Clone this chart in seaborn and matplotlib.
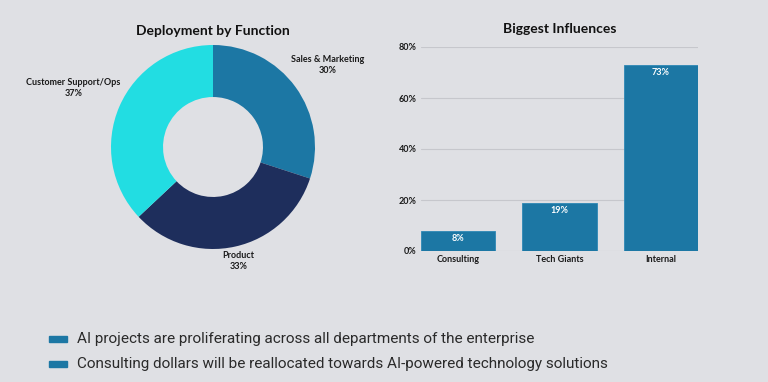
import pandas as pd
import matplotlib.pyplot as plt
import seaborn as sns

# data
pie_labels = ['Sales & Marketing', 'Product', 'Customer Support/Ops']
pie_values = [30, 33, 37]
pie_colors = ['#1c77a4', '#1e2e5c', '#22dde2']

bar_labels = ['Consulting', 'Tech Giants', 'Internal']
bar_values = [8, 19, 73]
bar_color = '#1c77a4'
y_ticks = [0, 20, 40, 60, 80]

notes = ['AI projects are proliferating across all departments of the enterprise',
         'Consulting dollars will be reallocated towards AI-powered technology solutions']

bg = '#dfe0e4'
sns.set_style('white')
plt.rcParams['font.family'] = ['Lato', 'DejaVu Sans']

fig = plt.figure(figsize=(7.68, 3.82), dpi=100)
fig.patch.set_facecolor(bg)

# ── Donut: Deployment by Function ───────────────────────────
ax1 = fig.add_axes([111 / 768, (382 - 249) / 382, 204 / 768, 204 / 382])
ax1.set_facecolor(bg)
ax1.pie(pie_values, colors=pie_colors, startangle=90, counterclock=False,
        radius=1, wedgeprops=dict(width=0.51, edgecolor='none'))
ax1.set_xlim(-1, 1)
ax1.set_ylim(-1, 1)
ax1.axis('off')
label_pos = [(1.12, 0.8), (0.25, -1.12), (-1.37, 0.58)]
for (lx, ly), name, v in zip(label_pos, pie_labels, pie_values):
    ax1.text(lx, ly, f'{name}\n{v}%', ha='center', va='center', fontsize=6.5,
             fontweight='bold', color='#1a1a1a', linespacing=1.3, clip_on=False)
fig.text(213 / 768, 1 - 31 / 382, 'Deployment by Function', ha='center', va='center',
         fontsize=10, fontweight='bold', color='#111111')

# ── Bar: Biggest Influences ─────────────────────────────────
df = pd.DataFrame({'source': bar_labels, 'share': bar_values})
ax2 = fig.add_axes([421 / 768, (382 - 251) / 382, 277 / 768, 204 / 382])
ax2.set_facecolor(bg)
sns.barplot(data=df, x='source', y='share', color=bar_color, width=0.73,
            saturation=1, ax=ax2, zorder=3, edgecolor='#2d88b5', linewidth=0.6)
ax2.set_xlim(-0.365, 2.365)
ax2.set_ylim(0, 80)
ax2.set_yticks(y_ticks)
ax2.set_yticklabels([f'{t}%' for t in y_ticks])
ax2.grid(axis='y', color='#c6c7cc', linewidth=0.8, zorder=0)
ax2.set_axisbelow(True)
for s in ax2.spines.values():
    s.set_visible(False)
ax2.tick_params(length=0, labelsize=6.5, labelcolor='#1a1a1a', pad=3)
for lab in ax2.get_xticklabels() + ax2.get_yticklabels():
    lab.set_fontweight('bold')
ax2.set_xlabel('')
ax2.set_ylabel('')
for i, v in enumerate(bar_values):
    ax2.text(i, v - 1.3, f'{v}%', ha='center', va='top', fontsize=6.5,
             fontweight='bold', color='white', zorder=4)
fig.text(560 / 768, 1 - 29 / 382, 'Biggest Influences', ha='center', va='center',
         fontsize=10, fontweight='bold', color='#111111')

# ── Bottom notes ───────────────────────────────────────────
for j, note in enumerate(notes):
    y = 1 - (339 + 25 * j) / 382
    fig.patches.append(plt.Rectangle((49 / 768, y - 3 / 382), 18 / 768, 6 / 382,
                                     transform=fig.transFigure, color=bar_color))
    fig.text(77 / 768, y, note, ha='left', va='center', fontsize=11,
             color='#2a2a2a', family=['Roboto', 'DejaVu Sans'])

plt.savefig('out.png', dpi=100, facecolor=bg)
